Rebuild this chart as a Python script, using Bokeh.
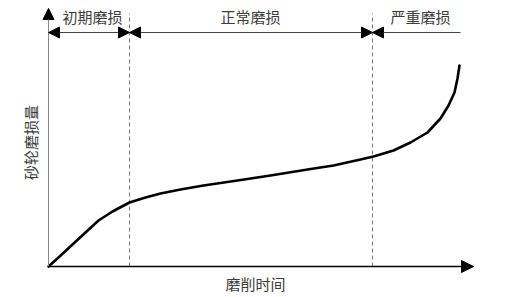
from bokeh.plotting import figure
from bokeh.models import Range1d, Arrow, NormalHead, Label
from bokeh.embed import file_html
from bokeh.resources import INLINE
import math

# Schematic wear curve (grinding time vs. wheel wear), arbitrary units
time = [0, 10, 24, 37, 50, 64, 81, 97, 112, 132, 155, 189, 222, 259, 285, 312, 325,
        345, 362, 379, 392, 400, 406, 409, 411]
wear = [0, 9, 22, 34, 46, 55, 64, 69, 73, 77, 81, 86, 91, 97, 101, 107, 110,
        116, 124, 134, 148, 161, 174, 188, 201]

phase_bounds = [0, 81, 324, 412]          # start, initial|normal, normal|severe, bracket end
phase_labels = ["初期磨损", "正常磨损", "严重磨损"]
phase_label_x = [44, 202, 372]
x_axis_label = "磨削时间"
y_axis_label = "砂轮磨损量"
x_axis_end = 425
y_axis_end = 258
bracket_y = 234
dash_top = 253

FONT = "Noto Sans CJK SC"
TXT = "#3c3c3c"

p = figure(width=506, height=297, output_backend="svg", toolbar_location=None,
           x_range=Range1d(-48, 458), y_range=Range1d(-31, 266), min_border=0)
p.axis.visible = False
p.grid.visible = False
p.outline_line_color = None
p.background_fill_color = "white"
p.border_fill_color = "white"

# dashed phase boundaries
p.segment(x0=phase_bounds[1:3], y0=[0, 0], x1=phase_bounds[1:3], y1=[dash_top, dash_top],
          line_color="#777777", line_width=1, line_dash="4 3")

# axes with arrows
p.add_layout(Arrow(x_start=0, y_start=0, x_end=0, y_end=y_axis_end,
                   line_color="#888888", line_width=1,
                   end=NormalHead(size=11, fill_color="black", line_color="black")))
p.add_layout(Arrow(x_start=0, y_start=0, x_end=x_axis_end, y_end=0,
                   line_color="black", line_width=1.6,
                   end=NormalHead(size=12, fill_color="black", line_color="black")))

# curve
p.line(time, wear, line_color="black", line_width=2.6, line_join="round", line_cap="round")

# phase brackets
def head():
    return NormalHead(size=11, fill_color="black", line_color="black")

p.add_layout(Arrow(x_start=phase_bounds[0], y_start=bracket_y, x_end=phase_bounds[1], y_end=bracket_y,
                   line_color="#444444", line_width=1, start=head(), end=head()))
p.add_layout(Arrow(x_start=phase_bounds[1], y_start=bracket_y, x_end=phase_bounds[2], y_end=bracket_y,
                   line_color="#444444", line_width=1, start=head(), end=head()))
p.add_layout(Arrow(x_start=phase_bounds[3], y_start=bracket_y, x_end=phase_bounds[2], y_end=bracket_y,
                   line_color="#444444", line_width=1, start=None, end=head()))

for lx, lt in zip(phase_label_x, phase_labels):
    p.add_layout(Label(x=lx, y=250, text=lt, text_font=FONT, text_font_size="15px",
                       text_color=TXT, text_align="center", text_baseline="middle"))

p.add_layout(Label(x=207, y=-17, text=x_axis_label, text_font=FONT, text_font_size="15px",
                   text_color=TXT, text_align="center", text_baseline="middle"))
p.add_layout(Label(x=-18, y=124, text=y_axis_label, text_font=FONT, text_font_size="15px",
                   text_color=TXT, text_align="center", text_baseline="middle", angle=math.pi / 2))

open("out.html", "w").write(file_html(p, INLINE))
